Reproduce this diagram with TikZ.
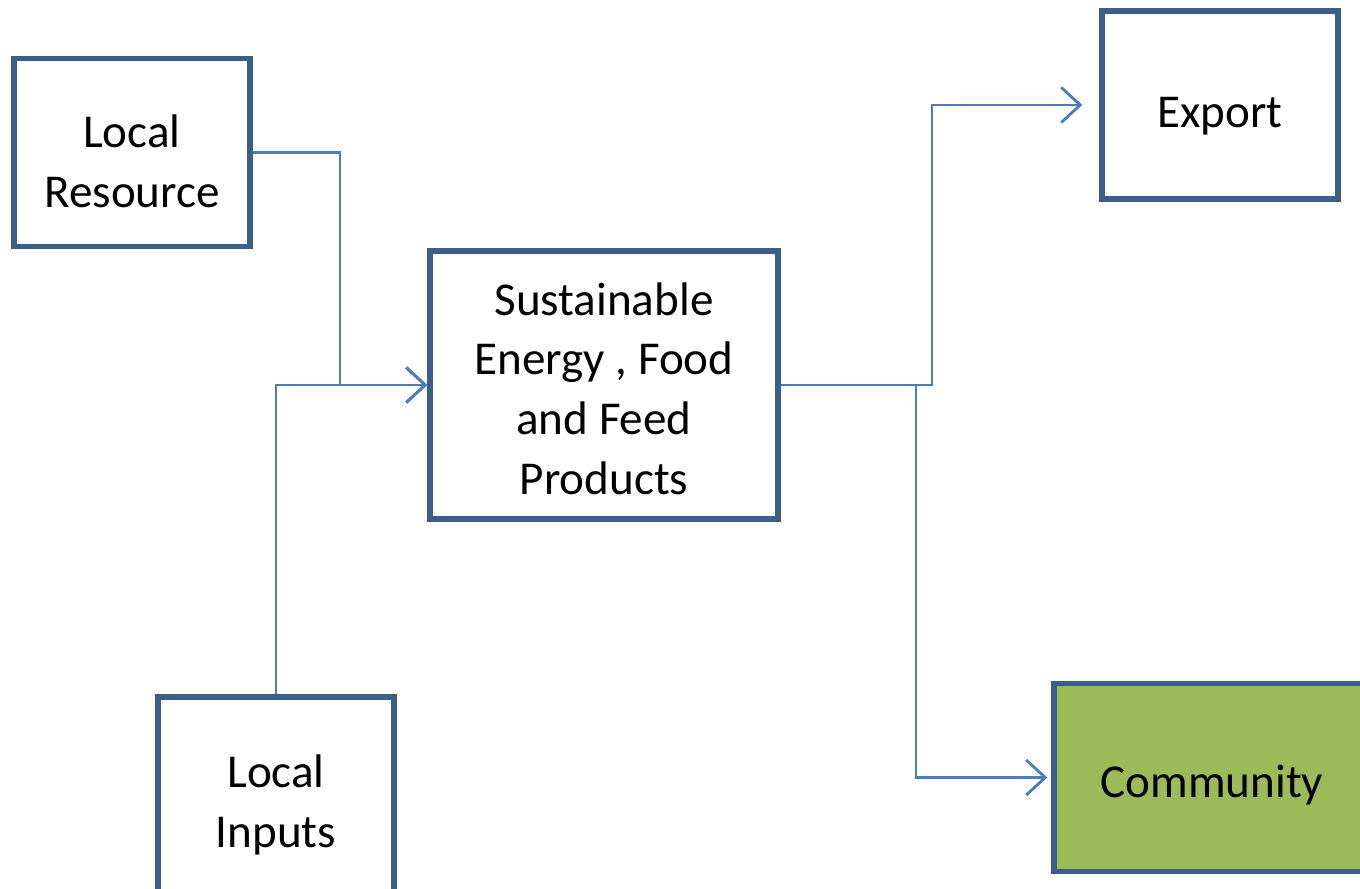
\documentclass[tikz,border=0pt]{standalone}
\usepackage{fontspec}
\setmainfont{Carlito}
\usetikzlibrary{positioning, calc, arrows.meta}
\definecolor{boxline}{HTML}{3A5F8B}
\definecolor{linkblue}{HTML}{4A7EBB}
\definecolor{greenfill}{HTML}{9BBB59}
\newcommand{\topgap}[1]{\rule{0pt}{#1}}
\tikzset{
  block/.style={rectangle, draw=boxline, line width=1.5pt, align=center, fill=white,
    minimum width=2.36cm, minimum height=1.88cm, font=\fontsize{13.4}{17}\selectfont},
  link/.style={draw=linkblue, line width=0.8pt, -{Straight Barb[length=5.4pt, width=10pt]}}
}
\begin{document}
\begin{tikzpicture}[x=0.01cm, y=-0.01cm]
			\useasboundingbox (0,0) rectangle (1360,889);
			\node[block] (Res) at (132, 152.5) {\topgap{0.51cm}Local\\Resource};
			\node[block, minimum width=3.48cm, minimum height=2.68cm] (Prod) at (604, 385) {\topgap{0.4cm}Sustainable\\Energy , Food\\and Feed\\Products};
			\node[block, minimum height=2.1cm] (Inp) at (276, 802) {\topgap{0.39cm}Local\\Inputs};
			\node[block] (Exp) at (1220, 105) {\topgap{0.52cm}Export};
			\node[block, fill=greenfill, minimum width=3.16cm] (Com) at (1212, 777.5) {\topgap{0.48cm}Community};
			
			\coordinate (JoinIn) at (340, 385);
			\coordinate (SplitExp) at (932, 385);
			\coordinate (SplitCom) at (916, 385);
			
			\draw[link] (Res.east) -| (JoinIn) -- (Prod.west);
			\draw[link] (Inp.north) |- (Prod.west);
			\draw[link, shorten >=0.17cm] (Prod.east) -- (SplitExp) |- (Exp.west);
			\draw[link, shorten >=0.04cm] (SplitCom) |- (Com.west);
		\end{tikzpicture}
\end{document}
